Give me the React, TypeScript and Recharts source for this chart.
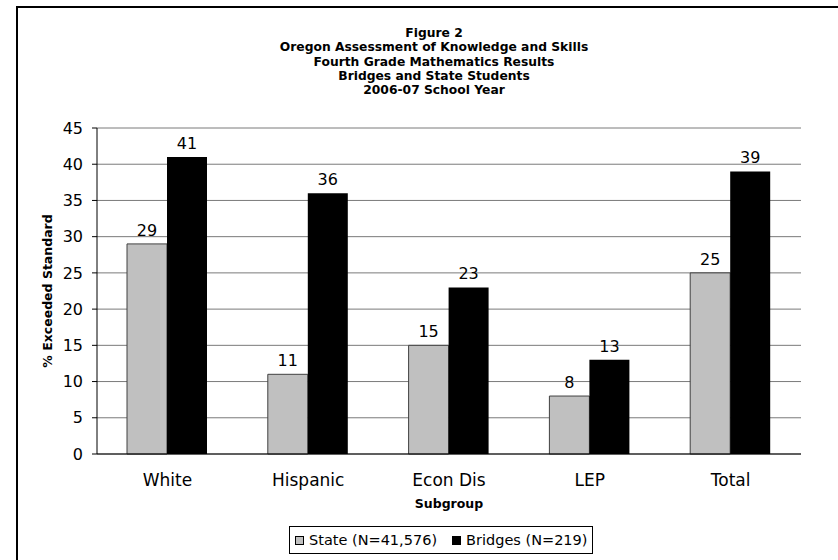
import React from 'react';
import { BarChart, Bar, XAxis, YAxis, CartesianGrid, LabelList } from 'recharts';

// Datos
const subgroups = ['White', 'Hispanic', 'Econ Dis', 'LEP', 'Total'];
const stateValues = [29, 11, 15, 8, 25];
const bridgesValues = [41, 36, 23, 13, 39];
const yTicks = [0, 5, 10, 15, 20, 25, 30, 35, 40, 45];
const edgeTicks = [0, 1, 2, 3, 4, 5];
const titleLines = [
  'Figure 2',
  'Oregon Assessment of Knowledge and Skills',
  'Fourth Grade Mathematics Results',
  'Bridges and State Students',
  '2006-07 School Year',
];
const seriesNames = ['State (N=41,576)', 'Bridges (N=219)'];

const STATE_COLOR = '#c0c0c0';
const BRIDGES_COLOR = '#000000';
const FONT = '"DejaVu Sans", Verdana, sans-serif';

const data = subgroups.map((name, i) => ({
  name,
  state: stateValues[i],
  bridges: bridgesValues[i],
}));

export default function App() {
  return (
    <div
      style={{
        position: 'absolute',
        left: 0,
        top: 0,
        width: 838,
        height: 560,
        overflow: 'hidden',
        background: '#fff',
        fontFamily: FONT,
      }}
    >
      {/* marco exterior */}
      <div
        style={{
          position: 'absolute',
          left: 16,
          top: 6,
          width: 900,
          height: 700,
          border: '2px solid #000',
        }}
      />

      {/* título */}
      <div
        style={{
          position: 'absolute',
          left: 0,
          top: 26,
          width: 868,
          textAlign: 'center',
          fontSize: 12.3,
          fontWeight: 'bold',
          lineHeight: '14.3px',
        }}
      >
        {titleLines.map((t) => (
          <div key={t}>{t}</div>
        ))}
      </div>

      <div style={{ position: 'absolute', left: 0, top: 0 }}>
        <BarChart
          width={838}
          height={560}
          data={data}
          margin={{ top: 128, right: 37, left: 17, bottom: 56 }}
          barSize={40}
          barGap={0}
        >
          <CartesianGrid vertical={false} stroke="#7a7a7a" />
          <XAxis
            xAxisId="edges"
            type="number"
            domain={[0, 5]}
            ticks={edgeTicks}
            tick={false}
            axisLine={false}
            tickLine={{ stroke: '#000' }}
            tickSize={5}
            height={0}
          />
          <XAxis
            dataKey="name"
            axisLine={{ stroke: '#000' }}
            tickLine={false}
            tick={{ fill: '#000', fontSize: 17, fontFamily: FONT }}
            tickMargin={14}
            height={50}
            label={{
              value: 'Subgroup',
              position: 'insideBottom',
              offset: -4,
              fill: '#000',
              fontSize: 12.5,
              fontWeight: 'bold',
              fontFamily: FONT,
            }}
          />
          <YAxis
            domain={[0, 45]}
            ticks={yTicks}
            interval={0}
            axisLine={{ stroke: '#000' }}
            tickLine={{ stroke: '#000' }}
            tickSize={5}
            tickMargin={9}
            tick={{ fill: '#000', fontSize: 16, fontFamily: FONT }}
            width={80}
            label={{
              value: '% Exceeded Standard',
              angle: -90,
              position: 'insideLeft',
              offset: 31,
              style: { textAnchor: 'middle' },
              fill: '#000',
              fontSize: 12.5,
              fontWeight: 'bold',
              fontFamily: FONT,
            }}
          />
          <YAxis
            yAxisId="right"
            orientation="right"
            domain={[0, 45]}
            width={0}
            tick={false}
            tickLine={false}
            axisLine={{ stroke: '#7a7a7a' }}
          />
          <Bar dataKey="state" fill={STATE_COLOR} stroke="#404040" strokeWidth={1} isAnimationActive={false}>
            <LabelList dataKey="state" position="top" offset={8} fill="#000" fontSize={16} fontFamily={FONT} />
          </Bar>
          <Bar dataKey="bridges" fill={BRIDGES_COLOR} isAnimationActive={false}>
            <LabelList dataKey="bridges" position="top" offset={8} fill="#000" fontSize={16} fontFamily={FONT} />
          </Bar>
        </BarChart>
      </div>

      {/* leyenda */}
      <div
        style={{
          position: 'absolute',
          left: 289,
          top: 526,
          height: 26,
          padding: '0 5px',
          border: '1px solid #000',
          display: 'flex',
          alignItems: 'center',
          fontSize: 14.5,
          whiteSpace: 'nowrap',
        }}
      >
        {seriesNames.map((n, i) => (
          <span key={n} style={{ display: 'flex', alignItems: 'center', marginRight: i === 0 ? 15 : 0 }}>
            <span
              style={{
                display: 'inline-block',
                boxSizing: 'border-box',
                width: 9,
                height: 9,
                marginRight: 5,
                background: i === 0 ? STATE_COLOR : BRIDGES_COLOR,
                border: '1px solid #000',
              }}
            />
            {n}
          </span>
        ))}
      </div>
    </div>
  );
}
